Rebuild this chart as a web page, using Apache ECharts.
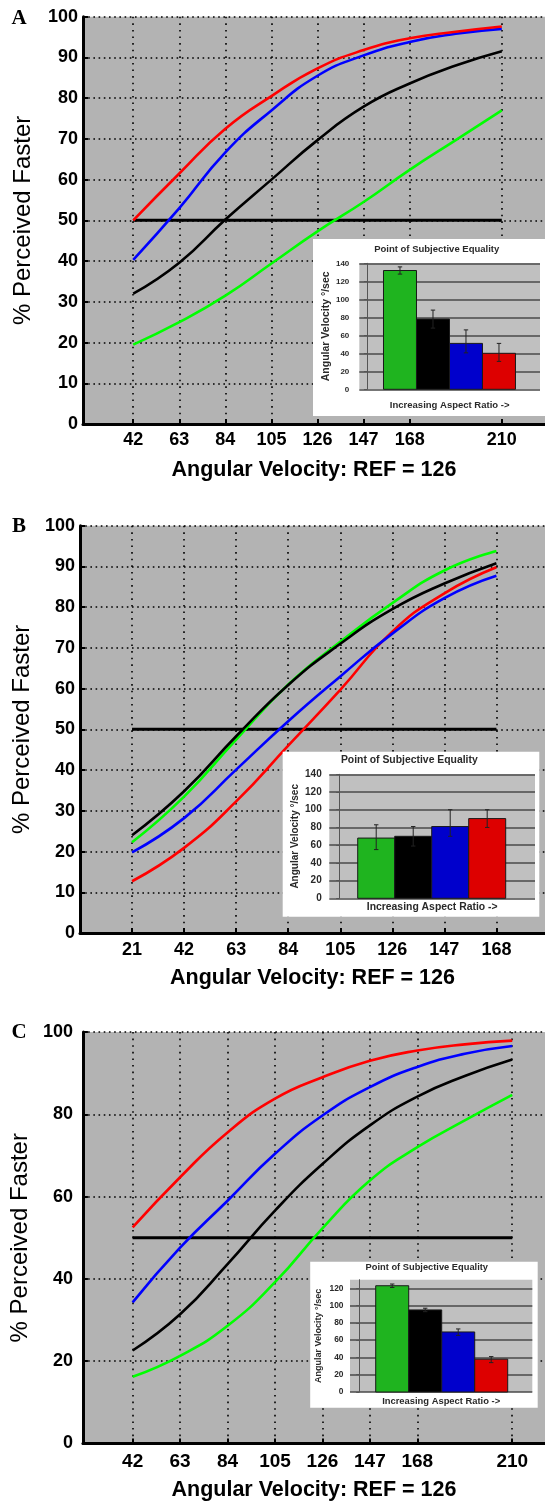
<!DOCTYPE html>
<html><head><meta charset="utf-8">
<script src="https://cdn.jsdelivr.net/npm/echarts@6/dist/echarts.min.js"></script>
<style>html,body{margin:0;padding:0;background:#fff}#c{width:545px;height:1506px}</style>
</head><body><div id="c"></div>
<script>
// ---------- data ----------
const A_X = [42, 63, 84, 105, 126, 147, 168, 189, 210];
const A_RED   = [50, 61.5, 72.5, 80.5, 87.3, 91.8, 94.7, 96.3, 97.6];
const A_BLUE  = [40.3, 53, 66.7, 77, 85.5, 90.5, 93.8, 95.8, 97];
const A_BLACK = [32, 39.6, 50.2, 60, 69.7, 77.9, 83.6, 88, 91.5];
const A_GREEN = [19.5, 25, 31.5, 39.4, 47.3, 54.5, 62.4, 69.7, 77];
const A_XTICKS = [42, 63, 84, 105, 126, 147, 168, 210];

const B_X = [21, 42, 63, 84, 105, 126, 147, 168];
const B_BLACK = [24, 34.8, 48.3, 60.9, 71, 79.5, 85.8, 90.8];
const B_GREEN = [22.3, 33.5, 47.5, 61, 71.5, 81, 89, 93.8];
const B_BLUE  = [19.8, 28.2, 40.1, 52, 63, 73.5, 82.2, 87.7];
const B_RED   = [12.7, 20.9, 32.3, 46, 59.7, 74, 83.4, 89.8];
const B_XTICKS = [21, 42, 63, 84, 105, 126, 147, 168];

const C_X = [42, 63, 84, 105, 126, 147, 168, 189, 210];
const C_RED   = [52.5, 64.7, 75.6, 83.8, 89, 93, 95.5, 97, 97.9];
const C_BLUE  = [34.3, 47.6, 59, 70.4, 79.7, 86.6, 91.5, 94.7, 96.6];
const C_BLACK = [22.6, 31.4, 43.6, 56.6, 67.9, 77.3, 84.3, 89.3, 93.3];
const C_GREEN = [16.2, 21.3, 28.6, 39.2, 52.3, 63.9, 72, 78.5, 84.7];
const C_XTICKS = [42, 63, 84, 105, 126, 147, 168, 210];

const REF_Y = 50;
const A_REF_X = [42, 210];
const B_REF_X = [21, 168];
const C_REF_X = [42, 210];

// inset bar charts: Point of Subjective Equality
const INSET_POS = [1, 2, 3, 4];
const INSET_COLORS = ['#1fb41f', '#000000', '#0000cc', '#dd0000'];
const INSET_A_VAL = [132, 78, 51, 40];
const INSET_A_LO  = [128, 68, 40.5, 31];
const INSET_A_HI  = [136, 88, 66, 51];
const INSET_B_VAL = [68, 70, 81, 90];
const INSET_B_LO  = [55, 59, 70, 80];
const INSET_B_HI  = [83, 81, 100, 100];
const INSET_C_VAL = [123, 95, 69.5, 38];
const INSET_C_LO  = [121, 93, 65.5, 34];
const INSET_C_HI  = [125, 97, 73, 41];
const INSET_C_YTICKS = [0, 20, 40, 60, 80, 100, 120];

const X_NAME = 'Angular Velocity: REF = 126';
const Y_NAME = '% Perceived Faster';
const INSET_TITLE = 'Point of Subjective Equality';
const INSET_YNAME = 'Angular Velocity °/sec';
const INSET_XNAME = 'Increasing Aspect Ratio ->';

// ---------- build ----------
const FONT = '"Liberation Sans", Arial, Helvetica, sans-serif';
const chart = echarts.init(document.getElementById('c'), null, {renderer: 'canvas'});

const zip = (xs, ys) => xs.map((x, i) => [x, ys[i]]);

const mainGrids = [
  {left: 83, top: 16.7, right: 0, height: 407.3},
  {left: 80, top: 525.7, right: 0, height: 407.3},
  {left: 81, top: 1032, right: 0, height: 411.5}
];
const mainX = [
  {min: 19.1, max: 229.7, ticks: A_XTICKS, gap: 35, margin: 7, fs: 18},
  {min: 0, max: 187.6, ticks: B_XTICKS, gap: 34, margin: 8, fs: 18},
  {min: 20, max: 224.5, ticks: C_XTICKS, gap: 35.5, margin: 9, fs: 19}
];
const mainY = [
  {interval: 10, margin: 5, gap: 48},
  {interval: 10, margin: 5, gap: 45},
  {interval: 20, margin: 10, gap: 46}
];

const grids = [], xAxes = [], yAxes = [], series = [], graphics = [];

mainGrids.forEach((g, i) => {
  grids.push(Object.assign({show: true, backgroundColor: '#b3b3b3', borderWidth: 0, z: 0}, g));
  const mx = mainX[i];
  xAxes.push({
    type: 'value', gridIndex: i, min: mx.min, max: mx.max, z: 1,
    name: X_NAME, nameLocation: 'middle', nameGap: mx.gap,
    nameTextStyle: {fontFamily: FONT, fontWeight: 'bold', fontSize: 21.5, color: '#000'},
    axisLine: {show: true, onZero: false, lineStyle: {color: '#000', width: 3}},
    axisTick: {show: true, inside: true, length: 5, customValues: mx.ticks, lineStyle: {color: '#000', width: 2}},
    axisLabel: {customValues: mx.ticks, margin: mx.margin, fontFamily: FONT, fontWeight: 'bold', fontSize: mx.fs, color: '#000'},
    splitLine: {show: true, lineStyle: {color: '#000', width: 1.6, type: [1.6, 5]}}
  });
  const my = mainY[i];
  yAxes.push({
    type: 'value', gridIndex: i, min: 0, max: 100, interval: my.interval, z: 1,
    name: Y_NAME, nameLocation: 'middle', nameGap: my.gap,
    nameTextStyle: {fontFamily: FONT, fontSize: 24, color: '#000'},
    axisLine: {show: true, lineStyle: {color: '#000', width: 3}},
    axisTick: {show: true, inside: true, length: 5, lineStyle: {color: '#000', width: 2}},
    axisLabel: {margin: my.margin, fontFamily: FONT, fontWeight: 'bold', fontSize: 18, color: '#000'},
    splitLine: {show: true, lineStyle: {color: '#000', width: 1.6, type: [1.6, 3.6]}}
  });
});

const panelData = [
  {x: A_X, ref: A_REF_X, lines: [[A_GREEN, '#00ff00'], [A_BLACK, '#000000'], [A_BLUE, '#0000ff'], [A_RED, '#ff0000']]},
  {x: B_X, ref: B_REF_X, lines: [[B_RED, '#ff0000'], [B_BLUE, '#0000ff'], [B_GREEN, '#00ff00'], [B_BLACK, '#000000']]},
  {x: C_X, ref: C_REF_X, lines: [[C_GREEN, '#00ff00'], [C_BLACK, '#000000'], [C_BLUE, '#0000ff'], [C_RED, '#ff0000']]}
];
panelData.forEach((p, i) => {
  series.push({
    type: 'line', xAxisIndex: i, yAxisIndex: i, z: 2, symbol: 'none', silent: true,
    data: p.ref.map(x => [x, REF_Y]), lineStyle: {color: '#000', width: 3}
  });
  p.lines.forEach(([ys, col]) => {
    series.push({
      type: 'line', xAxisIndex: i, yAxisIndex: i, z: 3, symbol: 'none', silent: true,
      smooth: 0.5,
      data: zip(p.x, ys), lineStyle: {color: col, width: 2.6}
    });
  });
});

// insets
const insets = [
  {box: [313, 239, 232, 177], title: [436.7, 249.3, 9.5],
   grid: {left: 359.3, top: 263.3, width: 180.7, height: 126},
   xmin: -0.233, xmax: 5.243, ymax: 140, yticks: null,
   xgap: 11.4, xfs: 9.5, ygap: 27.6, yfs: 10.5, lfs: 8, lmargin: 10,
   val: INSET_A_VAL, lo: INSET_A_LO, hi: INSET_A_HI},
  {box: [282.7, 751.7, 256.6, 165], title: [409.3, 760, 10.4],
   grid: {left: 329.3, top: 774.3, width: 205.7, height: 124},
   xmin: -0.268, xmax: 5.292, ymax: 140, yticks: null,
   xgap: 3.4, xfs: 10.4, ygap: 29.3, yfs: 10, lfs: 10, lmargin: 7.6,
   val: INSET_B_VAL, lo: INSET_B_LO, hi: INSET_B_HI},
  {box: [310.2, 1261.7, 227.5, 146], title: [426.8, 1267.3, 9.3],
   grid: {left: 350, top: 1279.7, width: 182.3, height: 112.3},
   xmin: -0.279, xmax: 5.245, ymax: 130, yticks: INSET_C_YTICKS,
   xgap: 4.7, xfs: 9.4, ygap: 27, yfs: 9, lfs: 8.4, lmargin: 6.5,
   val: INSET_C_VAL, lo: INSET_C_LO, hi: INSET_C_HI}
];

insets.forEach((ins, k) => {
  const gi = 3 + k;
  graphics.push({type: 'rect', z: 50, silent: true,
    shape: {x: ins.box[0], y: ins.box[1], width: ins.box[2], height: ins.box[3]},
    style: {fill: '#ffffff'}});
  graphics.push({type: 'text', z: 60, silent: true, x: ins.title[0], y: ins.title[1],
    style: {text: INSET_TITLE, font: 'bold ' + ins.title[2] + 'px ' + FONT, fill: '#2a2a2a',
      align: 'center', verticalAlign: 'middle', textAlign: 'center', textVerticalAlign: 'middle'}});
  grids.push(Object.assign({show: true, backgroundColor: '#c0c0c0', borderWidth: 0, z: 55}, ins.grid));
  xAxes.push({
    type: 'value', gridIndex: gi, min: ins.xmin, max: ins.xmax, z: 56,
    name: INSET_XNAME, nameLocation: 'middle', nameGap: ins.xgap,
    nameTextStyle: {fontFamily: FONT, fontWeight: 'bold', fontSize: ins.xfs, color: '#2a2a2a'},
    axisLine: {show: false}, axisTick: {show: false}, axisLabel: {show: false}, splitLine: {show: false}
  });
  const ya = {
    type: 'value', gridIndex: gi, min: 0, max: ins.ymax, z: 56,
    name: INSET_YNAME, nameLocation: 'middle', nameGap: ins.ygap,
    nameTextStyle: {fontFamily: FONT, fontWeight: 'bold', fontSize: ins.yfs, color: '#2a2a2a'},
    axisLine: {show: true, lineStyle: {color: '#555', width: 1}},
    axisTick: {show: true, length: 3, lineStyle: {color: '#555', width: 1}},
    axisLabel: {margin: ins.lmargin, fontFamily: FONT, fontWeight: 'bold', fontSize: ins.lfs, color: '#2a2a2a'},
    splitLine: {show: true, lineStyle: {color: '#4a4a4a', width: 1.5}}
  };
  if (ins.yticks) {
    ya.axisTick.customValues = ins.yticks;
    ya.axisLabel.customValues = ins.yticks;
  } else {
    ya.interval = 20;
  }
  yAxes.push(ya);
  series.push({
    type: 'custom', xAxisIndex: gi, yAxisIndex: gi, z: 57, silent: true, clip: false,
    encode: {x: 0, y: 1},
    data: INSET_POS.map((p, i) => [p, ins.val[i], ins.lo[i], ins.hi[i]]),
    renderItem: (params, api) => {
      const x = api.value(0), v = api.value(1), lo = api.value(2), hi = api.value(3);
      const tl = api.coord([x - 0.5, v]);
      const br = api.coord([x + 0.5, 0]);
      const eh = api.coord([x, hi]);
      const el = api.coord([x, lo]);
      const cap = 2.2;
      const es = {stroke: '#222', lineWidth: 1};
      return {type: 'group', children: [
        {type: 'rect', shape: {x: tl[0], y: tl[1], width: br[0] - tl[0], height: br[1] - tl[1]},
         style: {fill: INSET_COLORS[params.dataIndex], stroke: '#1a1a1a', lineWidth: 1}},
        {type: 'line', shape: {x1: eh[0], y1: eh[1], x2: el[0], y2: el[1]}, style: es},
        {type: 'line', shape: {x1: eh[0] - cap, y1: eh[1], x2: eh[0] + cap, y2: eh[1]}, style: es},
        {type: 'line', shape: {x1: el[0] - cap, y1: el[1], x2: el[0] + cap, y2: el[1]}, style: es}
      ]};
    }
  });
});

// panel letters
[['A', 19, 19], ['B', 19, 526.7], ['C', 19, 1033]].forEach(([t, x, y]) => {
  graphics.push({type: 'text', z: 60, silent: true, x: x, y: y,
    style: {text: t, font: 'bold 21px "Liberation Serif", "Times New Roman", serif', fill: '#000',
      align: 'center', verticalAlign: 'middle', textAlign: 'center', textVerticalAlign: 'middle'}});
});

chart.setOption({
  animation: false,
  backgroundColor: '#ffffff',
  grid: grids, xAxis: xAxes, yAxis: yAxes, series: series,
  graphic: {elements: graphics}
});
</script></body></html>
